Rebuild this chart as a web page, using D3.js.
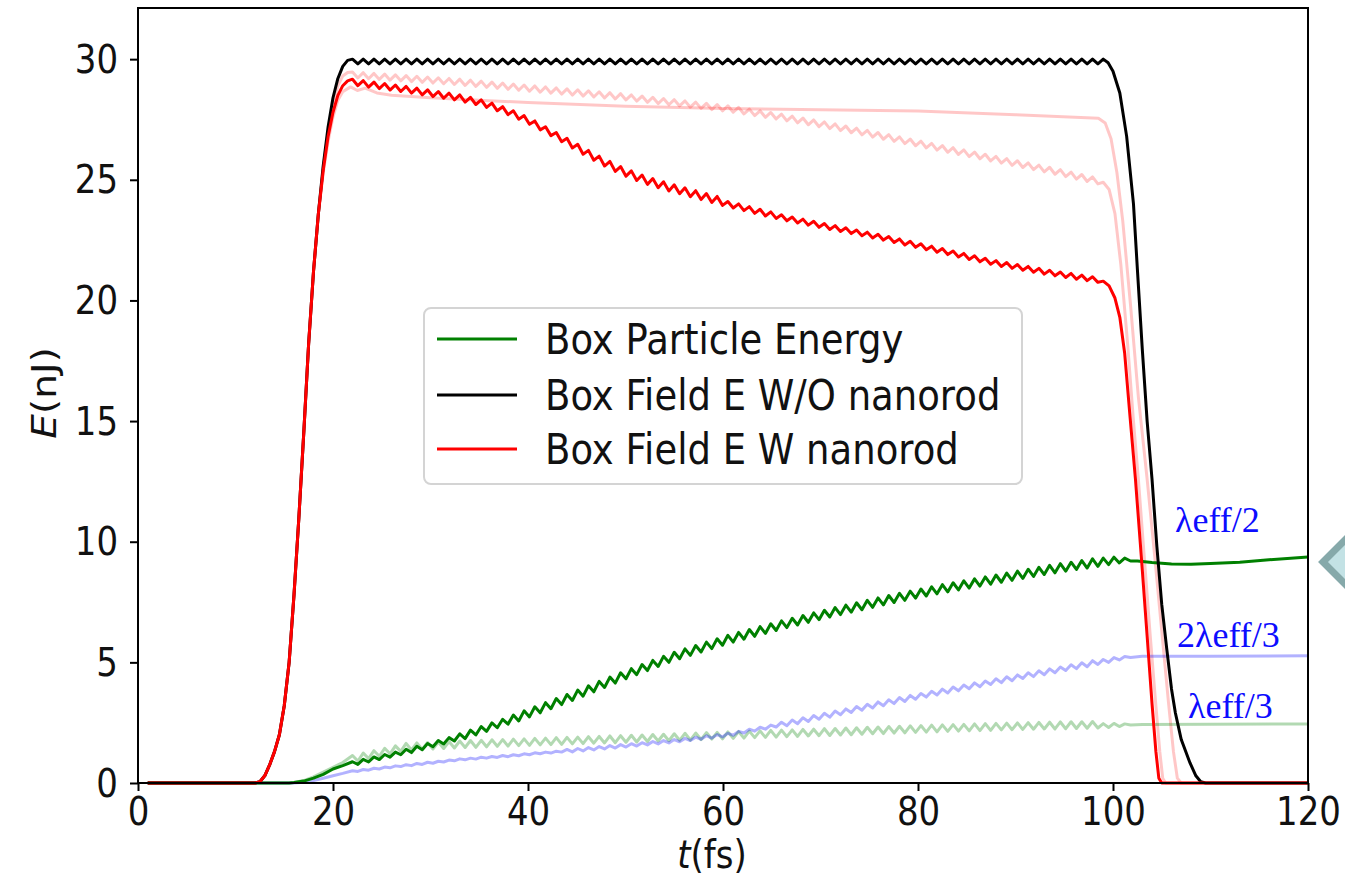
<!DOCTYPE html>
<html>
<head>
<meta charset="utf-8">
<title>Box energy vs time</title>
<script src="https://d3js.org/d3.v7.min.js"></script>
<style>
  body { margin: 0; background: #fff; }
  svg { display: block; }
</style>
</head>
<body>
<div id="chart"></div>
<script>
// ---- data (t in fs, E in nJ) ----
var xTicks = [0, 20, 40, 60, 80, 100, 120];
var yTicks = [0, 5, 10, 15, 20, 25, 30];
var legendLabels = ["Box Particle Energy", "Box Field E W/O nanorod", "Box Field E W nanorod"];
var legendColors = ["#008000", "#000000", "#ff0000"];
var noteLabels = ["\u03bbeff/2", "2\u03bbeff/3", "\u03bbeff/3"];

// the oscillating middle part of each curve is sampled every rippleStep fs from rippleStart
var rippleStart = 22, rippleStep = 0.55;

var blackRise = [[1,0],[12,0],[12.5,0.05],[13,0.3],[13.5,0.75],[14,1.3],[14.5,2.0],[15,3.2],[15.5,5.0],[16,7.8],[16.5,11.0],[17,14.5],[17.5,18.2],[18,21.2],[18.5,23.6],[19,25.6],[19.5,27.2],[20,28.4],[20.5,29.2],[21,29.7],[21.5,29.95]];
var blackRipple = [
  30,29.8,30,29.8,30,29.8,30,29.8,30,29.8, 30,29.8,30,29.8,30,29.8,30,29.8,30,29.8,
  30,29.8,30,29.8,30,29.8,30,29.8,30,29.8, 30,29.8,30,29.8,30,29.8,30,29.8,30,29.8,
  30,29.8,30,29.8,30,29.8,30,29.8,30,29.8, 30,29.8,30,29.8,30,29.8,30,29.8,30,29.8,
  30,29.8,30,29.8,30,29.8,30,29.8,30,29.8, 30,29.8,30,29.8,30,29.8,30,29.8,30,29.8,
  30,29.8,30,29.8,30,29.8,30,29.8,30,29.8, 30,29.8,30,29.8,30,29.8,30,29.8,30,29.8,
  30,29.8,30,29.8,30,29.8,30,29.8,30,29.8, 30,29.8,30,29.8,30,29.8,30,29.8,30,29.8,
  30,29.8,30,29.8,30,29.8,30,29.8,30,29.8, 30,29.8,30,29.8,30,29.8,30,29.8,30,29.8];
var blackFall = [[99.0,30.0],[99.5,29.85],[100,29.5],[100.7,28.6],[101.4,26.8],[102.1,24.0],[102.5,21.3],[103,18.0],[103.5,15.0],[104,12.6],[104.5,9.8],[105,7.4],[105.5,5.6],[106,3.9],[106.4,2.9],[107,1.8],[107.9,0.83],[108.5,0.3],[109,0.05],[109.5,0],[120,0]];

var redRise = [[1,0],[12,0],[12.5,0.05],[13,0.3],[13.5,0.75],[14,1.3],[14.5,2.0],[15,3.2],[15.5,5.0],[16,7.8],[16.5,11.0],[17,14.5],[17.5,18.2],[18,21.2],[18.5,23.6],[19,25.4],[19.5,26.8],[20,27.8],[20.5,28.5],[21,28.9],[21.5,29.1]];
var redRipple = [
  29.17,28.90,29.11,28.84,29.05,28.78,28.99,28.72,28.93,28.66,
  28.87,28.59,28.80,28.52,28.73,28.45,28.66,28.38,28.59,28.31,
  28.52,28.22,28.42,28.12,28.31,28.00,28.18,27.86,28.03,27.70,
  27.86,27.51,27.66,27.30,27.44,27.07,27.20,26.83,26.96,26.58,
  26.72,26.32,26.47,26.06,26.22,25.81,25.98,25.57,25.76,25.35,
  25.55,25.15,25.37,24.97,25.20,24.81,25.05,24.67,24.92,24.54,
  24.79,24.42,24.67,24.30,24.55,24.18,24.43,24.06,24.31,23.94,
  24.10,23.83,24.00,23.72,23.89,23.61,23.78,23.50,23.67,23.40,
  23.55,23.30,23.46,23.21,23.37,23.12,23.28,23.03,23.19,22.94,
  23.10,22.86,23.01,22.77,22.92,22.68,22.83,22.59,22.74,22.50,
  22.65,22.40,22.55,22.30,22.45,22.20,22.35,22.10,22.25,22.00,
  22.15,21.90,22.05,21.80,21.95,21.70,21.85,21.60,21.75,21.50,
  21.65,21.41,21.57,21.33,21.49,21.25,21.41,21.17,21.33,21.09,
  21.25,21.02,21.18,20.95,21.12,20.88,21.05,20.82,20.98,20.75];
var redFall = [[99.0,20.8],[99.6,20.6],[100.2,20.1],[100.7,19.3],[101.2,17.8],[101.7,15.4],[102.3,12.6],[102.9,9.4],[103.5,6.1],[104.0,3.3],[104.4,1.3],[104.7,0.2],[105,0],[120,0]];

var pinkARise = [[1,0],[12,0],[12.5,0.05],[13,0.3],[13.5,0.75],[14,1.3],[14.5,2.0],[15,3.2],[15.5,5.0],[16,7.8],[16.5,11.0],[17,14.5],[17.5,18.2],[18,21.2],[18.5,23.6],[19,25.5],[19.5,27.0],[20,28.1],[20.5,28.9],[21,29.3],[21.5,29.45]];
var pinkARipple = [
  29.47,29.22,29.44,29.19,29.41,29.16,29.38,29.13,29.35,29.10,
  29.32,29.07,29.29,29.04,29.26,29.01,29.23,28.98,29.20,28.95,
  29.17,28.91,29.13,28.87,29.09,28.83,29.05,28.79,29.01,28.75,
  28.97,28.71,28.93,28.67,28.89,28.63,28.85,28.59,28.81,28.55,
  28.77,28.51,28.73,28.47,28.69,28.43,28.65,28.39,28.61,28.35,
  28.57,28.31,28.52,28.26,28.47,28.21,28.42,28.16,28.37,28.11,
  28.32,28.06,28.27,28.01,28.22,27.96,28.17,27.91,28.12,27.86,
  28.07,27.80,28.00,27.73,27.93,27.66,27.86,27.59,27.79,27.52,
  27.72,27.44,27.64,27.36,27.56,27.28,27.48,27.20,27.40,27.12,
  27.32,27.04,27.23,26.95,27.14,26.86,27.05,26.77,26.96,26.68,
  26.87,26.59,26.78,26.50,26.69,26.41,26.60,26.32,26.51,26.23,
  26.42,26.14,26.33,26.05,26.24,25.96,26.15,25.87,26.06,25.78,
  25.97,25.69,25.88,25.60,25.79,25.51,25.70,25.42,25.61,25.33,
  25.52,25.23,25.42,25.13,25.32,25.03,25.22,24.93,25.12,24.83];
var pinkAFall = [[99.0,24.9],[99.6,24.6],[100.2,23.6],[100.8,21.5],[101.5,18.2],[102.1,15.0],[102.6,12.6],[103.2,9.4],[103.8,6.2],[104.4,3.2],[104.8,1.3],[105.1,0.2],[105.4,0],[120,0]];

var pinkBLine = [[1,0],[12,0],[12.5,0.05],[13,0.3],[13.5,0.75],[14,1.3],[14.5,2.0],[15,3.2],[15.5,5.0],[16,7.8],[16.5,11.0],[17,14.5],[17.5,18.2],[18,21.2],[18.5,23.6],[19,25.3],[19.5,26.6],[20,27.6],[20.5,28.3],[21,28.65],[21.8,28.85],[22.5,28.7],[23.3,28.8],[24.5,28.6],[26,28.5],[30,28.4],[35,28.3],[40,28.2],[50,28.05],[60,27.95],[70,27.9],[80,27.85],[90,27.7],[98.5,27.55],[99.2,27.35],[99.8,26.7],[100.4,25.3],[101,23.3],[101.8,19.8],[102.6,16.0],[103.5,12.6],[104.3,9.3],[105,6.3],[105.7,3.3],[106.2,1.3],[106.6,0.2],[107,0],[120,0]];

var greenRise = [[1,0],[15.5,0],[16,0.02],[17,0.08],[18,0.2],[19,0.36],[20,0.58],[21,0.72]];
var greenRipple = [
  0.88,0.77,0.98,0.87,1.08,0.97,1.18,1.07,1.28,1.17,
  1.40,1.26,1.52,1.38,1.64,1.50,1.76,1.62,1.88,1.74,
  2.04,1.84,2.19,1.99,2.34,2.14,2.49,2.29,2.64,2.44,
  2.82,2.57,2.99,2.74,3.16,2.91,3.33,3.08,3.50,3.25,
  3.67,3.42,3.85,3.60,4.03,3.78,4.21,3.96,4.39,4.14,
  4.57,4.32,4.74,4.49,4.91,4.66,5.08,4.83,5.25,5.00,
  5.42,5.15,5.56,5.29,5.70,5.43,5.84,5.57,5.98,5.71,
  6.12,5.84,6.24,5.96,6.36,6.08,6.48,6.20,6.60,6.32,
  6.72,6.44,6.83,6.55,6.94,6.66,7.05,6.77,7.16,6.88,
  7.27,6.98,7.37,7.08,7.47,7.18,7.57,7.28,7.67,7.38,
  7.77,7.48,7.86,7.57,7.95,7.66,8.04,7.75,8.13,7.84,
  8.22,7.92,8.30,8.00,8.38,8.08,8.46,8.16,8.54,8.24,
  8.62,8.32,8.70,8.40,8.78,8.48,8.86,8.56,8.94,8.64,
  9.02,8.71,9.09,8.78,9.15,8.85,9.22,8.91,9.29,8.98];
var greenTail = [[99.0,9.32],[99.55,9.05],[100.1,9.36],[100.65,9.12],[101.2,9.32],[101.8,9.2],[102.5,9.2],[104,9.14],[106,9.08],[108,9.07],[110,9.1],[113,9.15],[116,9.25],[120,9.37]];

var lightGreenRise = [[1,0],[15.5,0],[16,0.02],[17,0.1],[18,0.25],[19,0.45],[20,0.65],[21,0.85]];
var lightGreenRipple = [
  1.14,0.91,1.24,1.01,1.34,1.11,1.44,1.21,1.54,1.31,
  1.64,1.37,1.66,1.39,1.68,1.41,1.70,1.43,1.72,1.45,
  1.74,1.47,1.76,1.48,1.77,1.50,1.79,1.52,1.80,1.53,
  1.82,1.55,1.83,1.56,1.85,1.58,1.86,1.59,1.88,1.60,
  1.89,1.62,1.90,1.63,1.92,1.65,1.93,1.66,1.95,1.67,
  1.96,1.69,1.98,1.70,1.99,1.72,2.01,1.74,2.02,1.75,
  2.04,1.77,2.06,1.78,2.07,1.80,2.09,1.82,2.10,1.83,
  2.12,1.85,2.13,1.86,2.15,1.88,2.16,1.89,2.18,1.90,
  2.19,1.92,2.20,1.93,2.22,1.95,2.23,1.96,2.25,1.97,
  2.26,1.99,2.28,2.00,2.29,2.02,2.31,2.04,2.32,2.05,
  2.34,2.07,2.35,2.08,2.37,2.10,2.38,2.11,2.40,2.12,
  2.41,2.14,2.42,2.15,2.43,2.16,2.45,2.17,2.46,2.18,
  2.47,2.20,2.48,2.21,2.49,2.22,2.50,2.23,2.51,2.24,
  2.52,2.24,2.53,2.25,2.54,2.26,2.54,2.27,2.55,2.28];
var lightGreenTail = [[99.0,2.46],[99.55,2.3],[100.1,2.47],[100.65,2.34],[101.2,2.45],[101.8,2.4],[103,2.42],[110,2.43],[120,2.45]];

var blueRise = [[1,0],[16,0],[17,0.03],[18,0.1],[19,0.2],[20,0.3],[21,0.4]];
var blueRipple = [
  0.51,0.48,0.56,0.53,0.61,0.58,0.66,0.63,0.71,0.68,
  0.76,0.72,0.81,0.77,0.86,0.82,0.90,0.87,0.95,0.92,
  1.00,0.96,1.03,0.99,1.07,1.03,1.10,1.06,1.14,1.09,
  1.17,1.13,1.21,1.17,1.25,1.21,1.28,1.24,1.32,1.28,
  1.39,1.29,1.43,1.33,1.47,1.37,1.51,1.41,1.55,1.45,
  1.59,1.49,1.63,1.53,1.67,1.58,1.72,1.62,1.76,1.66,
  1.80,1.71,1.85,1.76,1.90,1.81,1.96,1.86,2.01,1.91,
  2.06,1.98,2.14,2.07,2.23,2.15,2.31,2.23,2.40,2.32,
  2.52,2.37,2.61,2.46,2.70,2.55,2.80,2.64,2.89,2.73,
  2.98,2.83,3.07,2.92,3.17,3.02,3.26,3.11,3.36,3.20,
  3.45,3.29,3.54,3.38,3.63,3.47,3.71,3.56,3.80,3.65,
  3.89,3.73,3.98,3.82,4.06,3.91,4.15,3.99,4.23,4.08,
  4.32,4.16,4.40,4.24,4.48,4.33,4.57,4.41,4.65,4.49,
  4.73,4.57,4.81,4.66,4.90,4.74,4.98,4.82,5.07,4.91];
var blueTail = [[99.0,5.12],[99.55,5.0],[100.1,5.2],[100.65,5.1],[101.2,5.24],[101.8,5.2],[103,5.25],[110,5.25],[120,5.27]];

// ---- layout ----
var width = 1345, height = 881;
var stretch = 1.15; // the source figure is slightly taller than wide

var x = d3.scaleLinear().domain([0, 120]).range([138, 1308]);
var y = d3.scaleLinear().domain([0, 32.12]).range([783, 8]);

var svg = d3.select("#chart").append("svg")
    .attr("width", width)
    .attr("height", height);

function build(rise, ripple, tail) {
    var mid = ripple.map(function(v, i) { return [rippleStart + i * rippleStep, v]; });
    return rise.concat(mid, tail);
}

var curves = [
    {data: pinkBLine, color: "#ff0000", opacity: 0.22},
    {data: build(pinkARise, pinkARipple, pinkAFall), color: "#ff0000", opacity: 0.22},
    {data: build(lightGreenRise, lightGreenRipple, lightGreenTail), color: "#008000", opacity: 0.3},
    {data: build(blueRise, blueRipple, blueTail), color: "#0000ff", opacity: 0.3},
    {data: build(greenRise, greenRipple, greenTail), color: "#008000", opacity: 1},
    {data: build(blackRise, blackRipple, blackFall), color: "#000000", opacity: 1},
    {data: build(redRise, redRipple, redFall), color: "#ff0000", opacity: 1}
];

var line = d3.line()
    .x(function(d) { return x(d[0]); })
    .y(function(d) { return y(d[1]); });

svg.append("g").attr("class", "curves")
    .selectAll("path")
    .data(curves)
    .enter().append("path")
    .attr("d", function(d) { return line(d.data); })
    .attr("fill", "none")
    .attr("stroke", function(d) { return d.color; })
    .attr("stroke-opacity", function(d) { return d.opacity; })
    .attr("stroke-width", 3)
    .attr("stroke-linejoin", "round");

// axes
var xAxis = d3.axisBottom(x).tickValues(xTicks).tickSize(8).tickSizeOuter(0);
var gx = svg.append("g")
    .attr("transform", "translate(0,783)")
    .call(xAxis)
    .attr("font-family", "DejaVu Sans")
    .attr("font-size", 34);
gx.select(".domain").remove();
gx.selectAll("line").attr("stroke", "#000").attr("stroke-width", 2);
gx.selectAll("text")
    .attr("y", 42 / stretch)
    .attr("dy", null)
    .attr("fill", "#111")
    .attr("transform", "scale(1," + stretch + ")");

var yAxis = d3.axisLeft(y).tickValues(yTicks).tickSize(8).tickSizeOuter(0);
var gy = svg.append("g")
    .attr("transform", "translate(138,0)")
    .call(yAxis)
    .attr("font-family", "DejaVu Sans")
    .attr("font-size", 34);
gy.select(".domain").remove();
gy.selectAll("line").attr("stroke", "#000").attr("stroke-width", 2);
gy.selectAll("text")
    .attr("x", -20)
    .attr("y", 13 / stretch)
    .attr("dy", null)
    .attr("fill", "#111")
    .attr("transform", "scale(1," + stretch + ")");

// frame
svg.append("rect")
    .attr("x", 138).attr("y", 8)
    .attr("width", 1170).attr("height", 775)
    .attr("fill", "none")
    .attr("stroke", "#000")
    .attr("stroke-width", 2);

// axis labels
var xl = svg.append("text")
    .attr("transform", "translate(712,868) scale(1," + stretch + ")")
    .attr("text-anchor", "middle")
    .attr("font-family", "DejaVu Sans")
    .attr("font-size", 34)
    .attr("fill", "#111");
xl.append("tspan").attr("font-style", "italic").text("t");
xl.append("tspan").text("(fs)");

var yl = svg.append("text")
    .attr("transform", "translate(56,393) scale(1," + stretch + ") rotate(-90)")
    .attr("text-anchor", "middle")
    .attr("font-family", "DejaVu Sans")
    .attr("font-size", 34)
    .attr("fill", "#111");
yl.append("tspan").attr("font-style", "italic").text("E");
yl.append("tspan").text("(nJ)");

// legend
var legend = svg.append("g").attr("class", "legend");
legend.append("rect")
    .attr("x", 424).attr("y", 308)
    .attr("width", 598).attr("height", 176)
    .attr("rx", 7)
    .attr("fill", "#fff")
    .attr("fill-opacity", 0.85)
    .attr("stroke", "#d4d4d4")
    .attr("stroke-width", 2);
var rowY = [339, 395, 449];
legendLabels.forEach(function(label, i) {
    legend.append("line")
        .attr("x1", 437).attr("x2", 517)
        .attr("y1", rowY[i]).attr("y2", rowY[i])
        .attr("stroke", legendColors[i])
        .attr("stroke-width", 3);
    legend.append("text")
        .attr("transform", "translate(545," + (rowY[i] + 15) + ") scale(1," + stretch + ")")
        .attr("font-family", "DejaVu Sans")
        .attr("font-size", 37)
        .attr("fill", "#111")
        .text(label);
});

// annotations for the nanorod lengths
var notePos = [[1175, 532], [1177, 647], [1188, 718]];
noteLabels.forEach(function(label, i) {
    svg.append("text")
        .attr("x", notePos[i][0]).attr("y", notePos[i][1])
        .attr("font-family", "Liberation Serif")
        .attr("font-size", 36)
        .attr("fill", "#0c0cff")
        .text(label);
});

// slide-navigation diamond cut by the right edge
svg.append("polygon")
    .attr("points", "1323,562 1374,511 1425,562 1374,613")
    .attr("fill", "#c3e2e5")
    .attr("stroke", "#86a9aa")
    .attr("stroke-width", 7);
</script>
</body>
</html>
